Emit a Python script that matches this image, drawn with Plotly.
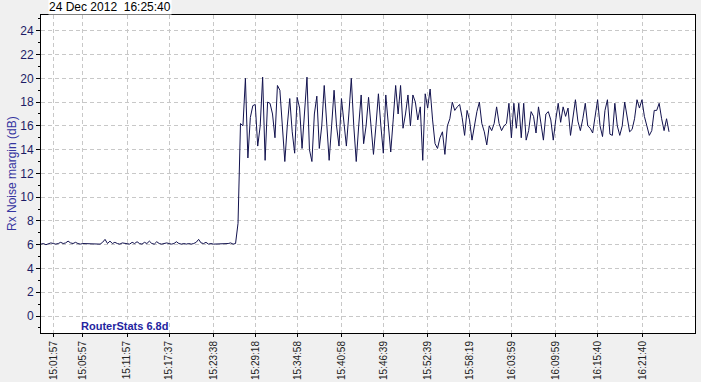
import plotly.graph_objects as go

# ---- data ----
start_time = "15:00:17"
sample_step_s = 20
noise_margin_db = [
    6.05, 6.1, 6.0, 6.05, 6.15, 6.1, 6.05, 6.1, 6.2, 6.1, 6.15, 6.3, 6.15, 6.1, 6.2, 6.1, 6.05, 6.1, 6.1, 6.05,
    6.05, 6.1, 6.05, 6.05, 6.05, 6.2, 6.45, 6.1, 6.3, 6.1, 6.2, 6.1, 6.05, 6.15, 6.1, 6.1, 6.05, 6.2, 6.1, 6.25,
    6.1, 6.05, 6.2, 6.1, 6.3, 6.1, 6.05, 6.25, 6.1, 6.05, 6.1, 6.15, 6.1, 6.05, 6.1, 6.25, 6.1, 6.05, 6.1, 6.05,
    6.1, 6.05, 6.1, 6.2, 6.45, 6.15, 6.1, 6.2, 6.05, 6.1, 6.05, 6.05, 6.05, 6.05, 6.1, 6.05, 6.1, 6.15, 6.05, 6.1,
    7.8, 16.2, 16.0, 20.0, 13.3, 16.7, 17.7, 17.8, 14.3, 16.0,
    20.1, 13.1, 18.0, 17.9, 17.0, 15.0, 19.4, 19.0, 15.5, 13.0,
    16.0, 18.3, 15.5, 13.7, 18.4, 17.5, 14.1, 17.0, 20.1, 14.0,
    13.0, 17.0, 18.5, 14.1, 16.0, 19.4, 16.0, 13.1, 16.0, 19.0,
    16.0, 14.3, 18.3, 16.0, 14.3, 17.0, 20.0, 16.0, 13.0, 16.0,
    18.6, 14.5, 16.0, 18.4, 16.0, 13.6, 16.0, 18.7, 16.0, 13.7,
    18.6, 16.5, 13.8, 16.5, 19.4, 17.0, 19.4, 15.8, 17.0, 18.6,
    16.0, 18.6, 18.0, 16.5, 17.6, 13.1, 18.7, 17.5, 19.1, 16.5,
    14.5, 14.1, 15.0, 15.5, 13.6, 16.0, 16.6, 18.0, 17.3, 17.6,
    17.8, 16.7, 15.2, 17.3, 16.5, 14.8, 16.0, 17.2, 18.0, 16.2,
    15.5, 14.4, 16.0, 15.6, 16.2, 17.6, 16.2, 15.6, 16.0, 16.2,
    17.9, 15.0, 17.9, 15.8, 17.9, 15.0, 17.9, 14.8, 15.6, 17.2,
    16.8, 15.4, 17.6, 16.0, 14.8, 17.0, 17.2, 16.5, 14.8, 16.5,
    17.9, 16.3, 17.6, 16.8, 17.5, 15.2, 16.6, 18.2, 16.4, 15.6,
    16.6, 17.9, 16.0, 15.8, 15.4, 16.8, 18.2, 16.0, 15.1, 17.3,
    18.2, 15.3, 15.2, 17.9, 16.0, 15.2, 16.0, 18.0, 16.6, 15.5,
    15.7, 16.6, 18.2, 17.5, 18.2, 16.8, 16.0, 15.2, 15.6, 17.3,
    17.3, 17.9, 16.6, 15.6, 16.6, 15.5,
]
x_tick_labels = ["15:01:57", "15:05:57", "15:11:57", "15:17:37", "15:23:38", "15:29:18",
                 "15:34:58", "15:40:58", "15:46:39", "15:52:39", "15:58:19", "16:03:59",
                 "16:09:59", "16:15:40", "16:21:40"]
title_text = "24 Dec 2012  16:25:40"
y_title = "Rx Noise margin (dB)"
brand_text = "RouterStats 6.8d"


def to_sec(hms):
    h, m, s = (int(v) for v in hms.split(":"))
    return (h - 15) * 3600 + m * 60 + s


t0 = to_sec(start_time)
times = [t0 + sample_step_s * i for i in range(len(noise_margin_db))]
tick_vals = [to_sec(s) for s in x_tick_labels]

W, H = 701, 382
L, R, T, B = 41, 6, 15, 49
pw, ph = W - L - R, H - T - B

fig = go.Figure()
fig.add_trace(go.Scatter(x=times, y=noise_margin_db, mode="lines",
                         line=dict(color="#12124e", width=1), hoverinfo="skip"))

grid = dict(showgrid=True, gridcolor="#c8c8c8", griddash="4px,3px", gridwidth=1)

fig.update_layout(
    width=W, height=H,
    margin=dict(l=L, r=R, t=T, b=B, autoexpand=False),
    paper_bgcolor="#f0f0f0", plot_bgcolor="#ffffff",
    showlegend=False,
    font=dict(family="Liberation Sans, Arial, sans-serif", size=11, color="#000000"),
    xaxis=dict(range=[17, 5328], tickmode="array", tickvals=tick_vals, ticktext=x_tick_labels,
               tickangle=-90, ticks="outside", ticklen=3, tickcolor="#000", automargin=False,
               showline=True, linecolor="#000", linewidth=1, mirror=True,
               zeroline=False, tickfont=dict(size=10, color="#222222"), **grid),
    yaxis=dict(range=[-1.43, 25.33], tickmode="linear", tick0=0, dtick=2, automargin=False,
               ticks="outside", ticklen=4, tickcolor="#000",
               minor=dict(tickmode="linear", tick0=0, dtick=1, ticks="outside", ticklen=2,
                          tickcolor="#000", showgrid=False),
               showline=True, linecolor="#000", linewidth=1, mirror=True,
               zeroline=False, tickfont=dict(size=12, color="#1c1c66"), **grid),
    annotations=[
        dict(text=y_title, xref="paper", yref="paper", x=(12 - L) / pw, y=0.5,
             xanchor="center", yanchor="middle", textangle=-90, showarrow=False,
             font=dict(size=12, color="#3535a0")),
        dict(text=title_text, xref="paper", yref="paper", x=(48 - L) / pw, y=1.0,
             xanchor="left", yanchor="bottom", showarrow=False, bgcolor="#ffffff",
             borderpad=0, font=dict(size=12, color="#000000")),
        dict(text="<b>" + brand_text + "</b>", xref="paper", yref="paper", x=(80 - L) / pw, y=0.0,
             xanchor="left", yanchor="bottom", showarrow=False, bgcolor="#ffffff",
             borderpad=0, font=dict(size=11, color="#2424a0")),
    ],
)

fig.write_html("out.html")
